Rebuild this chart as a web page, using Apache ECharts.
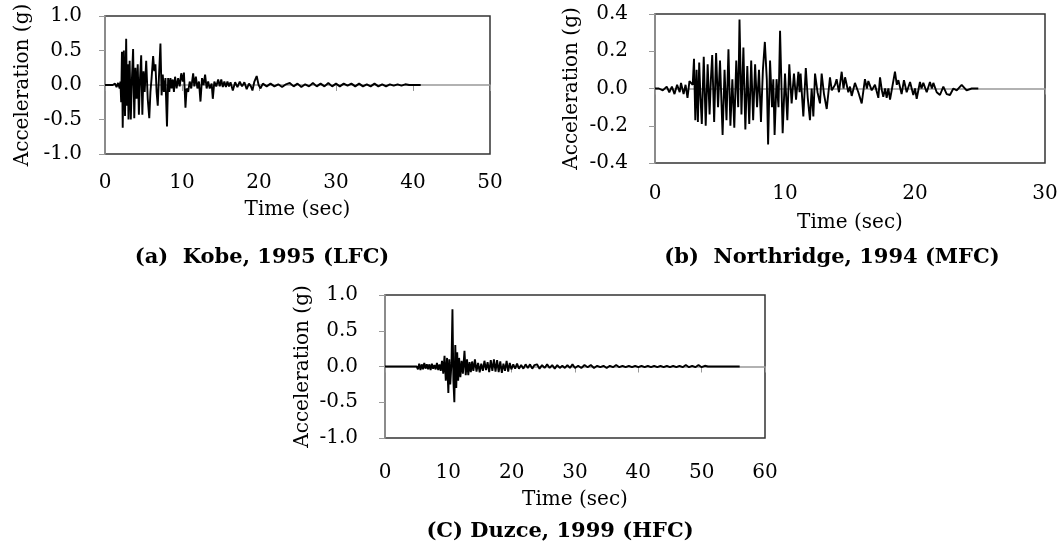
<!DOCTYPE html>
<html><head><meta charset="utf-8">
<script src="https://cdn.jsdelivr.net/npm/echarts@6.0.0/dist/echarts.min.js"></script>
<style>html,body{margin:0;padding:0;background:#fff}#c{width:1061px;height:550px}</style>
</head><body><div id="c"></div><script>
// [time (s), acceleration (g)]
const kobe = [[0,0],[1.0,0],[1.3,0.02],[1.5,-0.03],[1.7,0.03],[1.9,-0.05],[2.0,0.05],[2.1,-0.25],[2.2,0.48],[2.3,-0.62],[2.45,0.5],[2.6,-0.45],[2.75,0.67],[2.85,-0.3],[2.95,0.3],[3.05,-0.5],[3.2,0.35],[3.35,-0.5],[3.5,0.1],[3.65,0.52],[3.8,-0.48],[3.95,0.25],[4.1,-0.2],[4.25,0.3],[4.4,-0.43],[4.55,0.1],[4.7,0.43],[4.85,-0.43],[5.0,0.2],[5.15,-0.1],[5.35,0.35],[5.55,-0.2],[5.75,-0.48],[5.9,-0.1],[6.05,0.1],[6.25,0.42],[6.4,0.2],[6.55,0.3],[6.7,-0.1],[6.85,-0.3],[7.0,0.1],[7.2,0.6],[7.35,-0.15],[7.5,0.15],[7.65,-0.1],[7.85,0.1],[8.05,-0.6],[8.2,0.1],[8.35,-0.1],[8.5,0.1],[8.65,-0.05],[8.8,0.08],[8.95,-0.1],[9.1,0.12],[9.3,-0.05],[9.5,0.1],[9.7,-0.02],[9.9,0.17],[10.1,0.05],[10.25,0.18],[10.45,-0.33],[10.6,-0.05],[10.8,-0.1],[11.0,0.05],[11.2,-0.05],[11.45,0.17],[11.6,-0.02],[11.8,0.12],[12.0,-0.05],[12.2,0.05],[12.4,-0.24],[12.6,0.1],[12.8,0.0],[13.0,0.15],[13.2,-0.05],[13.4,0.05],[13.6,-0.05],[13.85,0.02],[14.0,-0.2],[14.2,0.05],[14.45,-0.02],[14.7,0.08],[14.9,-0.02],[15.1,0.08],[15.3,-0.03],[15.5,0.05],[15.7,-0.03],[15.9,0.05],[16.1,-0.02],[16.3,0.04],[16.6,-0.08],[16.9,0.04],[17.2,-0.03],[17.5,0.05],[17.8,-0.02],[18.1,0.04],[18.4,-0.06],[18.7,0.02],[18.95,-0.02],[19.15,-0.08],[19.4,0.05],[19.7,0.13],[19.95,0.0],[20.2,-0.05],[20.5,0.02],[21.0,-0.02],[21.5,0.02],[22.0,-0.02],[22.5,0.01],[23.0,-0.03],[23.5,0.01],[24.0,0.03],[24.5,-0.02],[25.0,0.02],[25.5,-0.03],[26.0,0.01],[26.5,-0.02],[27.0,0.03],[27.5,-0.02],[28.0,0.02],[28.5,-0.02],[29.0,0.03],[29.5,-0.02],[30.0,0.02],[30.5,-0.02],[31.0,0.02],[31.5,-0.01],[32.0,0.02],[32.5,-0.02],[33.0,0.02],[33.5,-0.02],[34.0,0.01],[34.5,-0.02],[35.0,0.02],[35.5,-0.02],[36.0,0.01],[36.5,-0.02],[37.0,0.01],[37.5,-0.01],[38.0,0.01],[38.5,-0.01],[39.0,0.01],[39.5,0.0],[40.0,0.0],[41.0,0.0]];

const northridge = [[0,0],[0.3,0],[0.6,-0.01],[0.9,0.01],[1.1,-0.02],[1.3,0.01],[1.5,-0.03],[1.7,0.02],[1.9,-0.02],[2.0,0.03],[2.2,-0.03],[2.35,0.02],[2.5,-0.05],[2.65,0.04],[2.8,0.05],[2.9,0.02],[3.0,0.16],[3.1,-0.17],[3.2,0.1],[3.3,-0.18],[3.4,0.14],[3.5,-0.05],[3.6,-0.19],[3.75,0.17],[3.9,-0.2],[4.05,0.13],[4.2,-0.14],[4.3,0.05],[4.4,0.18],[4.55,-0.18],[4.7,0.19],[4.85,-0.1],[5.0,0.15],[5.1,-0.05],[5.2,-0.25],[5.35,0.1],[5.5,-0.17],[5.65,0.21],[5.8,-0.2],[5.95,0.05],[6.1,-0.21],[6.25,0.15],[6.4,-0.1],[6.5,0.37],[6.65,-0.14],[6.8,0.22],[6.95,-0.22],[7.1,0.12],[7.25,-0.19],[7.4,0.15],[7.55,-0.17],[7.7,0.13],[7.85,-0.1],[8.0,0.1],[8.15,-0.18],[8.3,0.1],[8.45,0.25],[8.6,0.05],[8.7,-0.3],[8.85,0.15],[9.0,-0.1],[9.1,0.05],[9.2,-0.25],[9.35,0.05],[9.5,-0.1],[9.62,0.31],[9.82,-0.24],[10.0,0.08],[10.18,-0.17],[10.33,0.13],[10.51,-0.08],[10.69,0.08],[10.85,-0.06],[11.03,0.09],[11.12,-0.02],[11.2,0.08],[11.41,-0.15],[11.6,0.11],[11.75,-0.05],[11.92,-0.17],[12.05,0.0],[12.18,-0.15],[12.31,0.08],[12.5,-0.02],[12.69,-0.08],[12.82,0.08],[13.0,-0.03],[13.21,-0.11],[13.46,0.06],[13.6,-0.01],[13.72,-0.02],[13.85,0.02],[13.97,0.05],[14.15,-0.02],[14.36,0.09],[14.5,0.0],[14.62,0.06],[14.87,-0.02],[15.0,0.01],[15.13,-0.04],[15.38,0.03],[15.64,-0.02],[15.9,-0.08],[16.15,0.05],[16.3,0.0],[16.41,0.04],[16.67,-0.01],[16.92,0.02],[17.18,-0.05],[17.31,0.06],[17.45,-0.01],[17.56,-0.045],[17.7,0.0],[17.82,-0.05],[17.95,0.0],[18.08,-0.06],[18.46,0.09],[18.6,0.02],[18.72,0.045],[18.97,-0.03],[19.15,0.045],[19.36,-0.02],[19.62,0.035],[19.87,-0.035],[20.0,0.0],[20.13,-0.055],[20.38,0.035],[20.5,0.0],[20.64,0.03],[20.9,-0.02],[21.15,0.035],[21.3,0.0],[21.41,0.03],[21.67,-0.02],[21.92,-0.035],[22.18,0.01],[22.44,-0.03],[22.69,-0.035],[22.95,0.0],[23.21,-0.01],[23.59,0.02],[23.97,-0.01],[24.36,0.0],[24.87,0.0]];

const duzce = [[0,0],[5.0,0],[5.2,-0.04],[5.4,0.04],[5.6,-0.05],[5.8,0.03],[6.0,-0.04],[6.2,0.05],[6.4,-0.03],[6.6,0.03],[6.8,-0.04],[7.0,0.03],[7.2,-0.05],[7.4,0.04],[7.6,-0.03],[7.8,0.02],[8.0,-0.04],[8.2,0.05],[8.4,-0.05],[8.6,0.03],[8.8,-0.06],[9.0,0.08],[9.2,-0.1],[9.4,0.15],[9.6,-0.2],[9.8,0.12],[10.0,-0.37],[10.15,0.1],[10.3,-0.25],[10.5,0.05],[10.65,0.8],[10.8,-0.2],[10.95,-0.5],[11.1,0.3],[11.25,-0.3],[11.4,0.2],[11.55,-0.2],[11.7,0.12],[11.9,-0.15],[12.1,0.08],[12.3,-0.1],[12.55,0.22],[12.75,-0.12],[12.95,0.1],[13.15,-0.12],[13.35,0.06],[13.55,-0.08],[13.75,0.07],[13.95,-0.06],[14.2,0.1],[14.45,-0.07],[14.7,0.05],[14.95,-0.08],[15.2,0.04],[15.45,-0.06],[15.7,0.08],[15.95,-0.05],[16.2,0.06],[16.45,-0.08],[16.7,0.09],[16.95,-0.06],[17.2,0.1],[17.45,-0.07],[17.7,0.09],[17.95,-0.08],[18.2,0.07],[18.45,-0.09],[18.7,0.04],[18.95,-0.06],[19.2,0.08],[19.45,-0.07],[19.7,0.05],[19.95,-0.04],[20.25,0.03],[20.55,-0.03],[20.85,0.04],[21.15,-0.03],[21.5,0.02],[21.85,-0.03],[22.2,0.03],[22.55,-0.02],[22.9,0.03],[23.25,-0.03],[23.6,0.02],[24.0,0.03],[24.4,-0.03],[24.8,0.02],[25.2,-0.02],[25.6,0.03],[26.0,-0.02],[26.4,0.02],[26.8,-0.03],[27.2,0.02],[27.6,-0.02],[28.0,0.01],[28.4,-0.02],[28.8,0.02],[29.2,-0.02],[29.6,0.03],[30.0,-0.02],[30.5,0.01],[31.0,-0.02],[31.5,0.02],[32.0,-0.01],[32.5,0.02],[33.0,-0.02],[33.5,0.01],[34.0,-0.01],[34.5,0.01],[35.0,-0.02],[35.5,0.01],[36.0,-0.01],[36.5,0.02],[37.0,-0.01],[37.5,0.01],[38.0,-0.01],[38.5,0.01],[39.0,-0.01],[39.5,0.01],[40.0,-0.01],[40.5,0.01],[41.0,-0.01],[41.5,0.01],[42.0,-0.01],[42.5,0.01],[43.0,-0.01],[43.5,0.01],[44.0,-0.01],[44.5,0.01],[45.0,-0.01],[45.5,0.01],[46.0,-0.01],[46.5,0.01],[47.0,-0.01],[47.5,0.02],[48.0,-0.01],[48.5,0.01],[49.0,-0.01],[49.5,0.02],[50.0,-0.01],[50.5,0.01],[51.0,0.0],[52.0,0.0],[56.0,0.0]];

const captions = ['(a)\u00a0\u00a0Kobe, 1995 (LFC)', '(b)\u00a0\u00a0Northridge, 1994 (MFC)', '(C) Duzce, 1999 (HFC)'];
const xName = 'Time (sec)';
const yName = 'Acceleration (g)';
const xRanges = [[0, 50, 10], [0, 30, 10], [0, 60, 10]];
const yRanges = [[-1, 1, 0.5], [-0.4, 0.4, 0.2], [-1, 1, 0.5]];

const FONT = 'DejaVu Serif';
const FS = 20;
const grids = [
  {left: 105, top: 16, width: 385, height: 138},
  {left: 655, top: 14, width: 390, height: 149},
  {left: 385, top: 295, width: 380, height: 143}
];
const xLabelMargin = [19, 21, 25];
const xNameGap = [46, 50, 52];
const yLabelMargin = [23, 27, 27];
const yNameGap = [72, 73, 72];
const capPos = [[262, 258], [832, 258], [560, 532]];

const chart = echarts.init(document.getElementById('c'), null, {renderer: 'canvas'});
const option = {
  animation: false,
  backgroundColor: '#fff',
  grid: grids.map(g => Object.assign({show: true, borderColor: '#333', borderWidth: 1.5, backgroundColor: 'transparent'}, g)),
  xAxis: xRanges.map((r, i) => ({
    type: 'value', gridIndex: i, min: r[0], max: r[1], interval: r[2],
    name: xName, nameLocation: 'middle', nameGap: xNameGap[i],
    nameTextStyle: {fontFamily: FONT, fontSize: FS, color: '#000'},
    axisLine: {show: true, lineStyle: {color: '#999', width: 1.5}},
    axisTick: {show: true, inside: false, length: 6, lineStyle: {color: '#999'}},
    axisLabel: {fontFamily: FONT, fontSize: FS, color: '#000', margin: xLabelMargin[i]},
    splitLine: {show: false}
  })),
  yAxis: yRanges.map((r, i) => ({
    type: 'value', gridIndex: i, min: r[0], max: r[1], interval: r[2],
    name: yName, nameLocation: 'middle', nameGap: yNameGap[i], nameRotate: 90,
    nameTextStyle: {fontFamily: FONT, fontSize: FS, color: '#000'},
    axisLine: {show: true, lineStyle: {color: '#999', width: 1.5}},
    axisTick: {show: true, inside: false, length: 6, lineStyle: {color: '#999'}},
    axisLabel: {fontFamily: FONT, fontSize: FS, color: '#000', margin: yLabelMargin[i],
      formatter: v => (Math.abs(v) < 1e-9 ? 0 : v).toFixed(1)},
    splitLine: {show: false}
  })),
  series: [kobe, northridge, duzce].map((d, i) => ({
    type: 'line', xAxisIndex: i, yAxisIndex: i, data: d,
    showSymbol: false, symbol: 'none',
    lineStyle: {color: '#000', width: 1.9}
  })),
  graphic: captions.map((t, i) => ({
    type: 'text', x: capPos[i][0], y: capPos[i][1],
    style: {text: t, font: 'bold 21px "' + FONT + '"', fill: '#000', align: 'center', verticalAlign: 'middle'}
  }))
};
chart.setOption(option);
</script></body></html>
